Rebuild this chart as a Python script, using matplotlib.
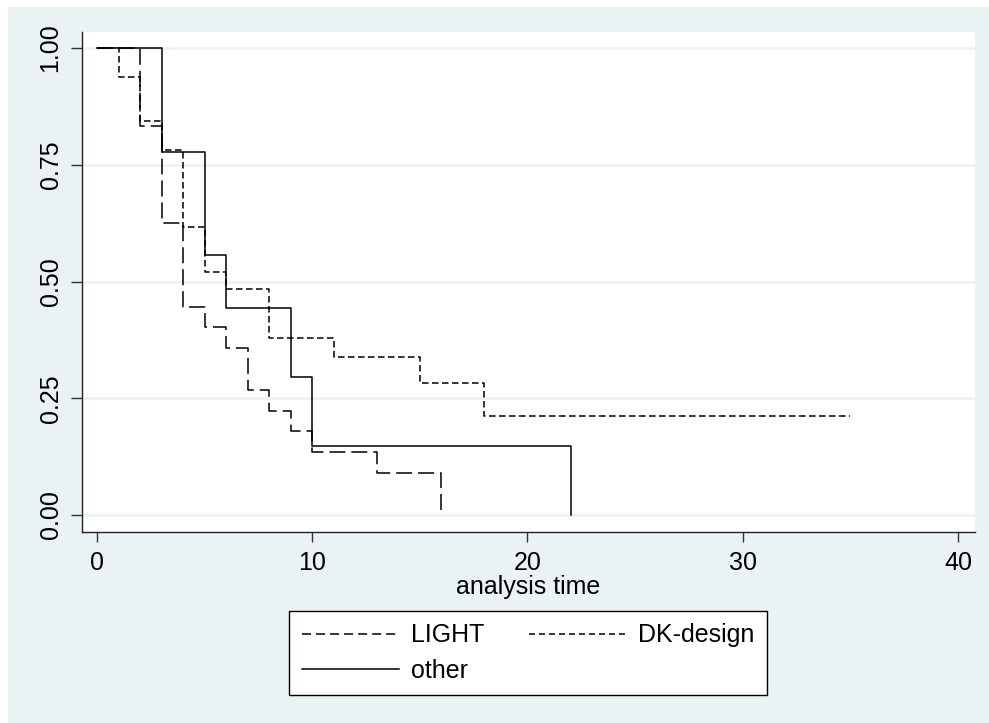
import matplotlib
matplotlib.use("Agg")
import matplotlib.pyplot as plt
from matplotlib.lines import Line2D
from matplotlib.patches import Rectangle

plt.rcParams["font.family"] = ["Liberation Sans", "DejaVu Sans"]
plt.rcParams["lines.scale_dashes"] = False

# Kaplan-Meier estimates
light_t = [0, 2, 3, 4, 5, 6, 7, 8, 9, 10, 13, 16]
light_s = [1.0, 0.833, 0.625, 0.446, 0.402, 0.357, 0.268, 0.223, 0.179, 0.134, 0.089, 0.0]

dk_t = [0, 1, 2, 3, 4, 5, 6, 8, 11, 15, 18, 35]
dk_s = [1.0, 0.9375, 0.844, 0.781, 0.617, 0.52, 0.484, 0.38, 0.338, 0.283, 0.212, 0.212]

other_t = [0, 3, 5, 6, 9, 10, 22]
other_s = [1.0, 0.778, 0.556, 0.444, 0.296, 0.148, 0.0]

labels = ["LIGHT", "DK-design", "other"]
xticks = [0, 10, 20, 30, 40]
yticks = [0.0, 0.25, 0.5, 0.75, 1.0]

BG = "#EAF2F3"
FS = 18

fig = plt.figure(figsize=(9.89, 7.23), dpi=100, facecolor="white")
fig.patches.append(Rectangle((8 / 989, 0), 1, 1 - 7 / 723, transform=fig.transFigure,
                             facecolor=BG, edgecolor="none", zorder=-10))

ax = fig.add_axes([82 / 989, 1 - 532 / 723, 893 / 989, 500 / 723])
ax.set_facecolor("white")

long_dash = (0, (11.5, 4.3))
short_dash = (0, (4.7, 2.5))

ax.step(light_t, light_s, where="post", color="black", lw=1.1, linestyle=long_dash)
ax.step(dk_t, dk_s, where="post", color="black", lw=1.1, linestyle=short_dash)
ax.step(other_t, other_s, where="post", color="black", lw=1.1)

ax.set_xlim(-0.697, 40.79)
ax.set_ylim(-0.0364, 1.0343)
ax.set_xticks(xticks)
ax.set_yticks(yticks)
ax.set_yticklabels([f"{v:.2f}" for v in yticks], rotation=90, va="center")
ax.tick_params(axis="both", labelsize=FS, colors="black", width=1, color="#333333")
ax.tick_params(axis="x", length=7, pad=7)
ax.tick_params(axis="y", length=8, pad=6)

ax.yaxis.grid(True, color=BG, lw=1.8)
ax.set_axisbelow(True)
for side in ["top", "right"]:
    ax.spines[side].set_visible(False)
for side in ["left", "bottom"]:
    ax.spines[side].set_linewidth(1)
    ax.spines[side].set_color("#222222")

ax.set_xlabel("analysis time", fontsize=FS, labelpad=0)

h_light = Line2D([], [], color="black", lw=1.1, linestyle=(0, (6.5, 3.6)))
h_dk = Line2D([], [], color="black", lw=1.1, linestyle=(0, (4.3, 2.9)))
h_other = Line2D([], [], color="black", lw=1.1)
# ncol=2 fills by column, so order gives rows: LIGHT | DK-design, other
leg = fig.legend([h_light, h_other, h_dk], [labels[0], labels[2], labels[1]],
                 loc="center", ncol=2,
                 bbox_to_anchor=(528 / 989, 1 - 653 / 723), bbox_transform=fig.transFigure,
                 fontsize=FS, frameon=True, fancybox=False, framealpha=1,
                 handlelength=3.9, handletextpad=0.45, columnspacing=1.8,
                 labelspacing=0.45, borderpad=0.5)
leg.get_frame().set_edgecolor("black")
leg.get_frame().set_linewidth(1)

fig.savefig("out.png", dpi=100, facecolor="white")
